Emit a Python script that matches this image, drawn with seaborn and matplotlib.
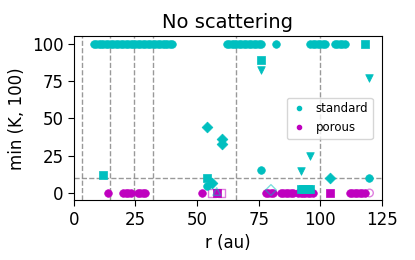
import numpy as np
import pandas as pd
import matplotlib
matplotlib.use("Agg")
import matplotlib.pyplot as plt
from matplotlib.lines import Line2D
import seaborn as sns

# standard grains (cyan): radius, value, marker, filled
std_r = list(range(8, 41)) + list(range(62, 77)) + [82] + list(range(96, 103)) + list(range(106, 111)) + \
    [118, 12, 54, 60, 60, 54, 54, 56, 76, 76, 76, 92, 96, 92, 93, 94, 95, 96, 80, 104, 120, 120, 58]
std_v = [100] * 33 + [100] * 15 + [100] + [100] * 7 + [100] * 5 + \
    [100, 12, 44, 36, 33, 10, 5, 7, 89, 82, 15.5, 14.5, 24.5, 3, 3, 3, 3, 3, 2, 10, 10, 77, 1]
std_m = ['o'] * 61 + \
    ['s', 's', 'D', 'D', 'D', 's', 'o', 'D', 's', 'v', 'o', 'v', 'v', 's', 's', 's', 's', 's', 'D', 'D', 'o', 'v', '^']
std_f = [True] * 61 + [True] * 18 + [False, True, True, True, False]

# porous grains (magenta)
por_r = [14, 20, 21, 22, 23, 26, 27, 28, 29, 52, 78, 79, 80, 81, 84, 85, 86, 87, 88, 89,
         91, 92, 93, 94, 95, 96, 97, 112, 113, 114, 115, 116, 117, 118, 58, 58, 56, 60, 104, 120]
por_v = [0] * 34 + [0, 0, 0, 0, 0, 0]
por_m = ['o'] * 34 + ['s', 'v', 's', 's', 's', 'o']
por_f = [True] * 34 + [True, True, False, False, True, False]

vlines = [3.2, 14.7, 24.4, 32.3, 66.0, 99.8]
hline = 10

df = pd.concat([
    pd.DataFrame({'r': std_r, 'val': std_v, 'marker': std_m, 'filled': std_f, 'kind': 'standard'}),
    pd.DataFrame({'r': por_r, 'val': por_v, 'marker': por_m, 'filled': por_f, 'kind': 'porous'}),
])
colors = {'standard': 'c', 'porous': 'm'}

sns.set_style('ticks')
plt.rcParams['font.family'] = ['DejaVu Sans']
plt.rcParams.update({'text.color': 'k', 'axes.labelcolor': 'k',
                     'xtick.color': 'k', 'ytick.color': 'k', 'axes.edgecolor': 'k'})

fig = plt.figure(figsize=(4.15, 2.6), dpi=100)
ax = fig.add_axes([0.178, 0.229, 0.742, 0.632])

for x in vlines:
    ax.axvline(x, color='gray', ls='--', lw=1, alpha=0.8, zorder=0)
ax.axhline(hline, color='gray', ls='--', lw=1, alpha=0.8, zorder=0)

for (kind, marker, filled), g in df.groupby(['kind', 'marker', 'filled']):
    c = colors[kind]
    if filled:
        sns.scatterplot(data=g, x='r', y='val', marker=marker, color=c, s=30,
                        edgecolor=c, linewidth=0.5, legend=False, ax=ax)
    else:
        sns.scatterplot(data=g, x='r', y='val', marker=marker, s=30, facecolor='none',
                        edgecolor=c, linewidth=1, alpha=0.5, legend=False, ax=ax)

ax.set_xlim(0, 125)
ax.set_ylim(-5, 105)
ax.set_xticks([0, 25, 50, 75, 100, 125])
ax.set_yticks([0, 25, 50, 75, 100])
ax.tick_params(labelsize=12, direction='out', length=4)
ax.set_xlabel('r (au)', fontsize=12)
ax.set_ylabel('min (K, 100)', fontsize=12)
ax.set_title('No scattering', fontsize=14)

handles = [Line2D([], [], ls='none', marker='o', color='c', markersize=3, label='standard'),
           Line2D([], [], ls='none', marker='o', color='m', markersize=3, label='porous')]
ax.legend(handles=handles, loc='center right', fontsize=8.5, frameon=True,
          handlelength=1.2, bbox_to_anchor=(0.99, 0.5))

fig.savefig('out.png', dpi=100)
